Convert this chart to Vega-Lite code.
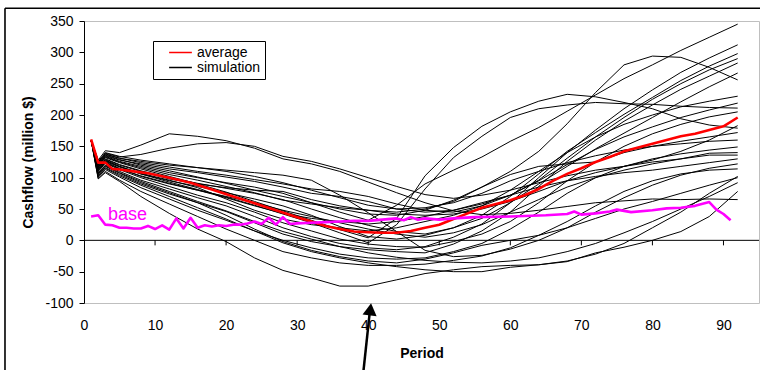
{
  "$schema": "https://vega.github.io/schema/vega-lite/v6.json",
  "width": 675,
  "height": 282,
  "autosize": {"type": "none"},
  "padding": {"left": 84, "top": 21, "right": 1, "bottom": 67},
  "background": "white",
  "config": {
    "view": {"stroke": "#bfbfbf", "strokeWidth": 1},
    "font": "Liberation Sans",
    "axisX": {
      "domain": false, "ticks": false, "tickSize": 0, "grid": false, "tickCount": 10,
      "labelFlush": false, "labelOverlap": false,
      "labelFontSize": 14, "labelColor": "black", "labelPadding": 15,
      "titleFontSize": 14, "titleFontWeight": "bold", "titleColor": "black",
      "titleY": 54, "titleBaseline": "alphabetic"
    },
    "axisY": {
      "grid": false, "domainColor": "black", "tickColor": "black", "tickSize": 5, "tickCount": 10,
      "labelFlush": false, "labelOverlap": false,
      "labelFontSize": 14, "labelColor": "black", "labelPadding": 6,
      "labelExpr": "replace(datum.label, '\u2212', '-')",
      "titleFontSize": 14, "titleFontWeight": "bold", "titleColor": "black",
      "titleX": -56, "titleY": 141, "titleAngle": 270, "titleBaseline": "middle", "titleAlign": "center"
    }
  },
  "datasets": {
    "sim": [
      {"period":1,"a":160,"b":160,"c":160,"d":159,"e":160,"f":160,"g":160,"h":160,"i":160,"j":160,"k":160,"l":160,"m":160,"n":160,"o":160,"p":160,"q":160,"r":160,"s":160,"t":160,"u":160,"v":160,"w":160,"x":160,"y":160,"z":160},
      {"period":2,"a":128,"b":124,"c":118,"d":115,"e":120,"f":122,"g":108,"h":113,"i":121,"j":104,"k":117,"l":123,"m":110,"n":126,"o":101,"p":111,"q":99,"r":103,"s":107,"t":98,"u":125,"v":116,"w":114,"x":106,"y":119,"z":112},
      {"period":3,"a":143,"b":139,"c":132,"d":128,"e":134,"f":136,"g":120,"h":126,"i":135,"j":116,"k":130,"l":137,"m":123,"n":140,"o":113,"p":125,"q":110,"r":115,"s":119,"t":108,"u":138,"v":129,"w":127,"x":118,"y":133,"z":124},
      {"period":5,"a":140,"b":133,"c":124,"d":118,"e":126,"f":129,"g":110,"h":117,"i":128,"j":105,"k":121,"l":131,"m":113,"n":134,"o":101,"p":115,"q":96,"r":103,"s":108,"t":94,"u":131,"v":120,"w":118,"x":107,"y":125,"z":114},
      {"period":8,"a":152,"b":137,"c":114,"d":106,"e":118,"f":120,"g":96,"h":106,"i":122,"j":90,"k":111,"l":124,"m":100,"n":128,"o":84,"p":102,"q":78,"r":88,"s":94,"t":70,"u":126,"v":110,"w":107,"x":92,"y":116,"z":103},
      {"period":12,"a":170,"b":147,"c":102,"d":93,"e":108,"f":111,"g":82,"h":95,"i":114,"j":74,"k":100,"l":117,"m":86,"n":122,"o":66,"p":90,"q":58,"r":70,"s":78,"t":43,"u":120,"v":98,"w":96,"x":76,"y":105,"z":91},
      {"period":16,"a":166,"b":154,"c":90,"d":81,"e":100,"f":101,"g":68,"h":86,"i":108,"j":60,"k":91,"l":110,"m":72,"n":116,"o":48,"p":80,"q":38,"r":52,"s":62,"t":18,"u":116,"v":90,"w":84,"x":60,"y":96,"z":80},
      {"period":20,"a":159,"b":156,"c":77,"d":69,"e":92,"f":91,"g":55,"h":76,"i":101,"j":46,"k":83,"l":104,"m":60,"n":110,"o":32,"p":70,"q":18,"r":34,"s":47,"t":-2,"u":112,"v":84,"w":66,"x":40,"y":86,"z":68},
      {"period":24,"a":147,"b":150,"c":62,"d":56,"e":85,"f":80,"g":38,"h":66,"i":94,"j":28,"k":75,"l":97,"m":45,"n":102,"o":15,"p":60,"q":0,"r":15,"s":30,"t":-28,"u":108,"v":80,"w":48,"x":18,"y":76,"z":55},
      {"period":28,"a":130,"b":134,"c":47,"d":42,"e":75,"f":70,"g":20,"h":55,"i":85,"j":10,"k":65,"l":90,"m":28,"n":92,"o":0,"p":48,"q":-18,"r":-4,"s":14,"t":-48,"u":104,"v":78,"w":34,"x":-2,"y":64,"z":43},
      {"period":32,"a":122,"b":126,"c":32,"d":28,"e":60,"f":60,"g":6,"h":40,"i":75,"j":-2,"k":50,"l":82,"m":15,"n":80,"o":-12,"p":38,"q":-28,"r":-18,"s":2,"t":-60,"u":96,"v":65,"w":25,"x":-16,"y":58,"z":35},
      {"period":36,"a":110,"b":114,"c":17,"d":12,"e":45,"f":50,"g":-5,"h":22,"i":70,"j":-10,"k":36,"l":78,"m":2,"n":68,"o":-22,"p":28,"q":-36,"r":-28,"s":-10,"t":-73,"u":72,"v":55,"w":20,"x":-26,"y":52,"z":30},
      {"period":40,"a":93,"b":100,"c":4,"d":-4,"e":32,"f":42,"g":-12,"h":6,"i":62,"j":-15,"k":24,"l":70,"m":-6,"n":56,"o":-28,"p":18,"q":-40,"r":-36,"s":-20,"t":-73,"u":44,"v":48,"w":15,"x":-33,"y":48,"z":26},
      {"period":44,"a":76,"b":86,"c":35,"d":25,"e":56,"f":40,"g":-15,"h":2,"i":50,"j":-18,"k":14,"l":58,"m":-10,"n":50,"o":-30,"p":10,"q":-40,"r":-42,"s":-27,"t":-63,"u":14,"v":45,"w":20,"x":-36,"y":42,"z":30},
      {"period":48,"a":60,"b":73,"c":103,"d":82,"e":90,"f":48,"g":-10,"h":8,"i":45,"j":-20,"k":10,"l":48,"m":-11,"n":52,"o":-28,"p":5,"q":-38,"r":-47,"s":-32,"t":-53,"u":-16,"v":50,"w":30,"x":-30,"y":40,"z":38},
      {"period":52,"a":47,"b":67,"c":148,"d":132,"e":112,"f":64,"g":5,"h":20,"i":48,"j":-6,"k":20,"l":45,"m":-2,"n":60,"o":-18,"p":12,"q":-32,"r":-50,"s":-35,"t":-47,"u":-26,"v":62,"w":40,"x":-20,"y":42,"z":48},
      {"period":56,"a":41,"b":72,"c":182,"d":166,"e":133,"f":85,"g":26,"h":40,"i":58,"j":15,"k":35,"l":55,"m":10,"n":75,"o":-5,"p":25,"q":-25,"r":-50,"s":-36,"t":-42,"u":-24,"v":85,"w":55,"x":-8,"y":50,"z":60},
      {"period":60,"a":43,"b":80,"c":205,"d":196,"e":158,"f":110,"g":60,"h":70,"i":72,"j":45,"k":60,"l":72,"m":30,"n":95,"o":18,"p":45,"q":-12,"r":-43,"s":-33,"t":-40,"u":-14,"v":105,"w":80,"x":0,"y":62,"z":72},
      {"period":64,"a":48,"b":92,"c":222,"d":210,"e":180,"f":142,"g":100,"h":106,"i":96,"j":86,"k":90,"l":95,"m":60,"n":110,"o":45,"p":65,"q":8,"r":-39,"s":-28,"t":-39,"u":0,"v":118,"w":110,"x":8,"y":78,"z":85},
      {"period":68,"a":54,"b":103,"c":233,"d":216,"e":206,"f":186,"g":140,"h":142,"i":131,"j":126,"k":118,"l":121,"m":95,"n":124,"o":75,"p":85,"q":30,"r":-33,"s":-18,"t":-34,"u":20,"v":122,"w":140,"x":20,"y":95,"z":95},
      {"period":72,"a":60,"b":112,"c":229,"d":220,"e":232,"f":236,"g":176,"h":172,"i":165,"j":160,"k":146,"l":145,"m":125,"n":135,"o":100,"p":100,"q":55,"r":-22,"s":-5,"t":-20,"u":45,"v":125,"w":165,"x":35,"y":108,"z":102},
      {"period":76,"a":63,"b":118,"c":220,"d":218,"e":258,"f":280,"g":210,"h":201,"i":196,"j":190,"k":171,"l":165,"m":150,"n":144,"o":118,"p":112,"q":78,"r":-5,"s":12,"t":-11,"u":68,"v":140,"w":185,"x":50,"y":118,"z":108},
      {"period":80,"a":66,"b":125,"c":210,"d":217,"e":280,"f":294,"g":240,"h":228,"i":225,"j":216,"k":196,"l":181,"m":170,"n":150,"o":130,"p":122,"q":95,"r":20,"s":30,"t":0,"u":88,"v":150,"w":200,"x":62,"y":128,"z":112},
      {"period":84,"a":65,"b":130,"c":194,"d":214,"e":303,"f":292,"g":268,"h":255,"i":250,"j":241,"k":221,"l":196,"m":185,"n":154,"o":138,"p":130,"q":106,"r":45,"s":50,"t":14,"u":104,"v":158,"w":213,"x":75,"y":142,"z":118},
      {"period":88,"a":66,"b":136,"c":184,"d":212,"e":324,"f":276,"g":291,"h":278,"i":272,"j":262,"k":245,"l":208,"m":197,"n":158,"o":144,"p":139,"q":112,"r":75,"s":70,"t":38,"u":115,"v":165,"w":222,"x":88,"y":160,"z":124},
      {"period":92,"a":65,"b":136,"c":179,"d":211,"e":345,"f":256,"g":312,"h":298,"i":290,"j":283,"k":267,"l":219,"m":205,"n":160,"o":149,"p":140,"q":114,"r":102,"s":92,"t":78,"u":122,"v":172,"w":230,"x":100,"y":183,"z":130}
    ],
    "avg": [
      {"period":1,"v":161},{"period":2,"v":124},{"period":3,"v":124},{"period":4,"v":114},{"period":5,"v":113},
      {"period":7,"v":110},{"period":9,"v":107},{"period":12,"v":100},{"period":15,"v":92},{"period":18,"v":81},
      {"period":21,"v":70},{"period":24,"v":59},{"period":27,"v":48},{"period":30,"v":37},{"period":32,"v":30},
      {"period":34,"v":23},{"period":36,"v":18},{"period":38,"v":14},{"period":40,"v":13},{"period":42,"v":12},
      {"period":44,"v":12},{"period":46,"v":15},{"period":48,"v":20},{"period":50,"v":25},{"period":52,"v":34},
      {"period":54,"v":43},{"period":56,"v":52},{"period":58,"v":58},{"period":60,"v":64},{"period":62,"v":72},
      {"period":64,"v":82},{"period":66,"v":95},{"period":68,"v":106},{"period":70,"v":115},{"period":72,"v":125},
      {"period":74,"v":133},{"period":76,"v":142},{"period":78,"v":148},{"period":80,"v":154},{"period":82,"v":160},
      {"period":84,"v":166},{"period":86,"v":170},{"period":88,"v":176},{"period":90,"v":182},{"period":92,"v":196}
    ],
    "base": [
      {"period":1,"v":38},{"period":2,"v":40},{"period":3,"v":25},{"period":4,"v":24},{"period":5,"v":20},
      {"period":6,"v":20},{"period":7,"v":19},{"period":8,"v":19},{"period":9,"v":23},{"period":10,"v":18},
      {"period":11,"v":24},{"period":12,"v":17},{"period":13,"v":35},{"period":14,"v":19},{"period":15,"v":36},
      {"period":16,"v":20},{"period":17,"v":24},{"period":18,"v":22},{"period":19,"v":24},{"period":20,"v":23},
      {"period":21,"v":25},{"period":22,"v":25},{"period":23,"v":27},{"period":24,"v":30},{"period":25,"v":26},
      {"period":26,"v":36},{"period":27,"v":25},{"period":28,"v":37},{"period":29,"v":26},{"period":30,"v":27},
      {"period":32,"v":28},{"period":34,"v":29},{"period":36,"v":30},{"period":38,"v":31},{"period":40,"v":31},
      {"period":42,"v":33},{"period":44,"v":35},{"period":45,"v":32},{"period":46,"v":37},{"period":47,"v":33},
      {"period":48,"v":35},{"period":50,"v":33},{"period":52,"v":35},{"period":55,"v":37},{"period":60,"v":38},
      {"period":65,"v":40},{"period":68,"v":42},{"period":69,"v":46},{"period":70,"v":41},{"period":72,"v":43},
      {"period":74,"v":46},{"period":75,"v":49},{"period":77,"v":45},{"period":80,"v":48},{"period":82,"v":51},
      {"period":84,"v":52},{"period":86,"v":55},{"period":88,"v":61},{"period":89,"v":49},{"period":90,"v":42},
      {"period":91,"v":32}
    ],
    "xticks": [
      {"t":10},{"t":20},{"t":30},{"t":40},{"t":50},{"t":60},{"t":70},{"t":80},{"t":90}
    ]
  },
  "layer": [
    {
      "data": {"name": "sim"},
      "transform": [{"fold": ["a","b","c","d","e","f","g","h","i","j","k","l","m","n","o","p","q","r","s","t","u","v","w","x","y","z"], "as": ["run","v"]}],
      "mark": {"type": "line", "strokeWidth": 1, "strokeJoin": "round"},
      "encoding": {
        "x": {"field": "period", "type": "quantitative", "title": "Period",
              "scale": {"domain": [0, 95], "nice": false, "zero": false}},
        "y": {"field": "v", "type": "quantitative", "title": "Cashflow (million $)",
              "scale": {"domain": [-100, 350], "nice": false, "zero": false}},
        "detail": {"field": "run"},
        "color": {
          "datum": "simulation", "type": "nominal",
          "scale": {"domain": ["average", "simulation"], "range": ["#ff0000", "#000000"]},
          "legend": {
            "orient": "none", "legendX": 69, "legendY": 20, "title": null,
            "strokeColor": "black", "fillColor": "white",
            "padding": 4, "rowPadding": 0,
            "symbolType": "M-1.75,0H1.75", "symbolSize": 169, "symbolOffset": 16,
            "symbolStrokeWidth": 1.5, "labelOffset": 9,
            "labelFontSize": 14, "labelColor": "black",
            "labelExpr": "datum.label + '\u00a0\u00a0'"
          }
        }
      }
    },
    {
      "data": {"name": "avg"},
      "mark": {"type": "line", "strokeWidth": 2.6, "strokeJoin": "round"},
      "encoding": {
        "x": {"field": "period", "type": "quantitative", "title": "Period"},
        "y": {"field": "v", "type": "quantitative", "title": "Cashflow (million $)"},
        "color": {"datum": "average", "type": "nominal"}
      }
    },
    {
      "data": {"name": "base"},
      "mark": {"type": "line", "strokeWidth": 2.6, "color": "#ff00ff", "strokeJoin": "round"},
      "encoding": {
        "x": {"field": "period", "type": "quantitative", "title": "Period"},
        "y": {"field": "v", "type": "quantitative", "title": "Cashflow (million $)"}
      }
    },
    {
      "data": {"values": [{}]},
      "mark": {"type": "rule", "color": "black", "strokeWidth": 1},
      "encoding": {"y": {"datum": 0, "type": "quantitative", "title": "Cashflow (million $)"}}
    },
    {
      "data": {"name": "xticks"},
      "mark": {"type": "rule", "color": "black", "strokeWidth": 1},
      "encoding": {
        "x": {"field": "t", "type": "quantitative", "title": "Period"},
        "y": {"datum": 0, "type": "quantitative", "title": "Cashflow (million $)"},
        "y2": {"datum": -8}
      }
    },
    {
      "data": {"values": [{}]},
      "mark": {"type": "text", "text": "base", "fontSize": 18, "color": "#ff00ff", "align": "left", "baseline": "alphabetic"},
      "encoding": {
        "x": {"datum": 3.38, "type": "quantitative", "title": "Period"},
        "y": {"datum": 32.4, "type": "quantitative", "title": "Cashflow (million $)"}
      }
    },
    {
      "data": {"values": [{}]},
      "mark": {"type": "rule", "color": "black", "strokeWidth": 2.5},
      "encoding": {
        "x": {"datum": 39.27, "type": "quantitative", "title": "Period"},
        "y": {"datum": -215, "type": "quantitative", "title": "Cashflow (million $)"},
        "x2": {"datum": 40.24},
        "y2": {"datum": -112}
      }
    },
    {
      "data": {"values": [{}]},
      "mark": {"type": "point", "shape": "triangle-up", "filled": true, "color": "black", "opacity": 1, "size": 200, "angle": 7},
      "encoding": {
        "x": {"datum": 40.3, "type": "quantitative", "title": "Period"},
        "y": {"datum": -110.2, "type": "quantitative", "title": "Cashflow (million $)"}
      }
    },
    {
      "data": {"values": [{}]},
      "mark": {"type": "rule", "color": "black", "strokeWidth": 1.6},
      "encoding": {
        "x": {"datum": -11.12, "type": "quantitative", "title": "Period"},
        "y": {"datum": 370.3, "type": "quantitative", "title": "Cashflow (million $)"},
        "x2": {"datum": 95.3}
      }
    },
    {
      "data": {"values": [{}]},
      "mark": {"type": "rule", "color": "black", "strokeWidth": 1.6},
      "encoding": {
        "x": {"datum": -11.12, "type": "quantitative", "title": "Period"},
        "y": {"datum": 370.3, "type": "quantitative", "title": "Cashflow (million $)"},
        "y2": {"datum": -215}
      }
    }
  ]
}
